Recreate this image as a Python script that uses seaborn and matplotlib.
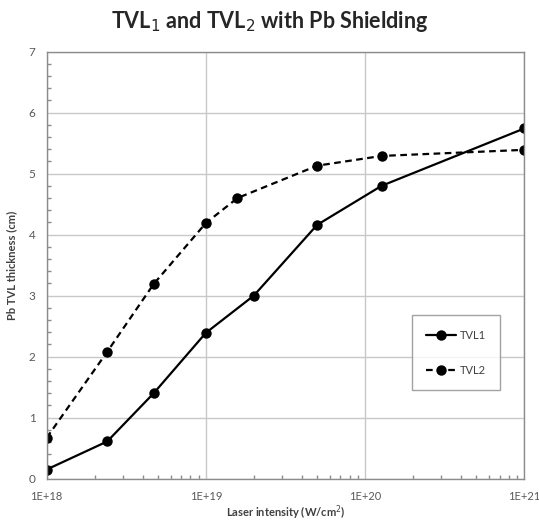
import numpy as np
import pandas as pd
import matplotlib
matplotlib.use("Agg")
import matplotlib.pyplot as plt
import seaborn as sns
from matplotlib.ticker import LogLocator, MultipleLocator, NullFormatter

# Pb tenth-value-layer thickness versus laser intensity
tvl1_intensity = [1e18, 2.4e18, 4.7e18, 1e19, 2e19, 5e19, 1.27e20, 1e21]
tvl1_thickness = [0.15, 0.61, 1.40, 2.39, 3.00, 4.16, 4.80, 5.74]
tvl2_intensity = [1e18, 2.4e18, 4.7e18, 1e19, 1.58e19, 5e19, 1.27e20, 1e21]
tvl2_thickness = [0.67, 2.08, 3.19, 4.19, 4.60, 5.13, 5.29, 5.39]
series_names = ["TVL1", "TVL2"]
x_tick_values = [1e18, 1e19, 1e20, 1e21]
x_tick_labels = ["1E+18", "1E+19", "1E+20", "1E+21"]
y_tick_values = [0, 1, 2, 3, 4, 5, 6, 7]

df = pd.concat([
    pd.DataFrame({"intensity": tvl1_intensity, "thickness": tvl1_thickness, "series": series_names[0]}),
    pd.DataFrame({"intensity": tvl2_intensity, "thickness": tvl2_thickness, "series": series_names[1]}),
])

sns.set_theme(style="white")
plt.rcParams["font.family"] = ["Lato", "DejaVu Sans"]

fig = plt.figure(figsize=(5.39, 5.24), dpi=100)
ax = fig.add_axes([0.0866, 0.0865, 0.886, 0.815])

sns.lineplot(
    data=df, x="intensity", y="thickness", style="series",
    dashes={"TVL1": "", "TVL2": (3, 2)},
    markers={"TVL1": "o", "TVL2": "o"},
    color="black", linewidth=1.6, markersize=7.5, markeredgewidth=0,
    sort=False, ax=ax,
)

ax.set_xscale("log")
ax.set_xlim(1e18, 1e21)
ax.set_ylim(0, 7)
ax.set_xticks(x_tick_values)
ax.set_xticklabels(x_tick_labels)
ax.set_yticks(y_tick_values)
ax.xaxis.set_minor_locator(LogLocator(base=10, subs=np.arange(2, 10)))
ax.xaxis.set_minor_formatter(NullFormatter())
ax.yaxis.set_minor_locator(MultipleLocator(0.2))

ax.grid(True, which="major", color="#c8c8c8", linewidth=1.0)
ax.set_axisbelow(True)
for s in ax.spines.values():
    s.set_color("#8c8c8c")
    s.set_linewidth(1.0)

ax.tick_params(axis="both", which="major", length=0, labelsize=8.5, colors="#595959")
ax.tick_params(axis="x", which="major", labelsize=8, pad=9)
ax.tick_params(axis="y", which="major", pad=8)
ax.tick_params(axis="x", which="minor", direction="in", length=3, color="#8c8c8c", bottom=True)
ax.tick_params(axis="y", which="minor", direction="in", length=3, color="#8c8c8c", left=True)

ax.set_xlabel("Laser intensity (W/cm$^2$)", fontsize=8, fontweight="bold", color="#404040", labelpad=1)
ax.set_ylabel("Pb TVL thickness (cm)", fontsize=8, fontweight="bold", color="#404040", labelpad=8)

fig.suptitle("TVL$_1$ and TVL$_2$ with Pb Shielding", fontsize=15.5, fontweight="bold",
             color="#262626", y=0.983)

leg = ax.legend(
    title=None, loc="upper left", bbox_to_anchor=(0.765, 0.383),
    frameon=True, fancybox=False, edgecolor="#8c8c8c", facecolor="white",
    fontsize=8, handlelength=2.7, labelspacing=2.2, borderpad=1.3,
    handletextpad=0.3, borderaxespad=0,
)
leg.get_frame().set_linewidth(1.0)
for t in leg.get_texts():
    t.set_color("#404040")
leg.set_zorder(5)

fig.savefig("out.png", dpi=100)
